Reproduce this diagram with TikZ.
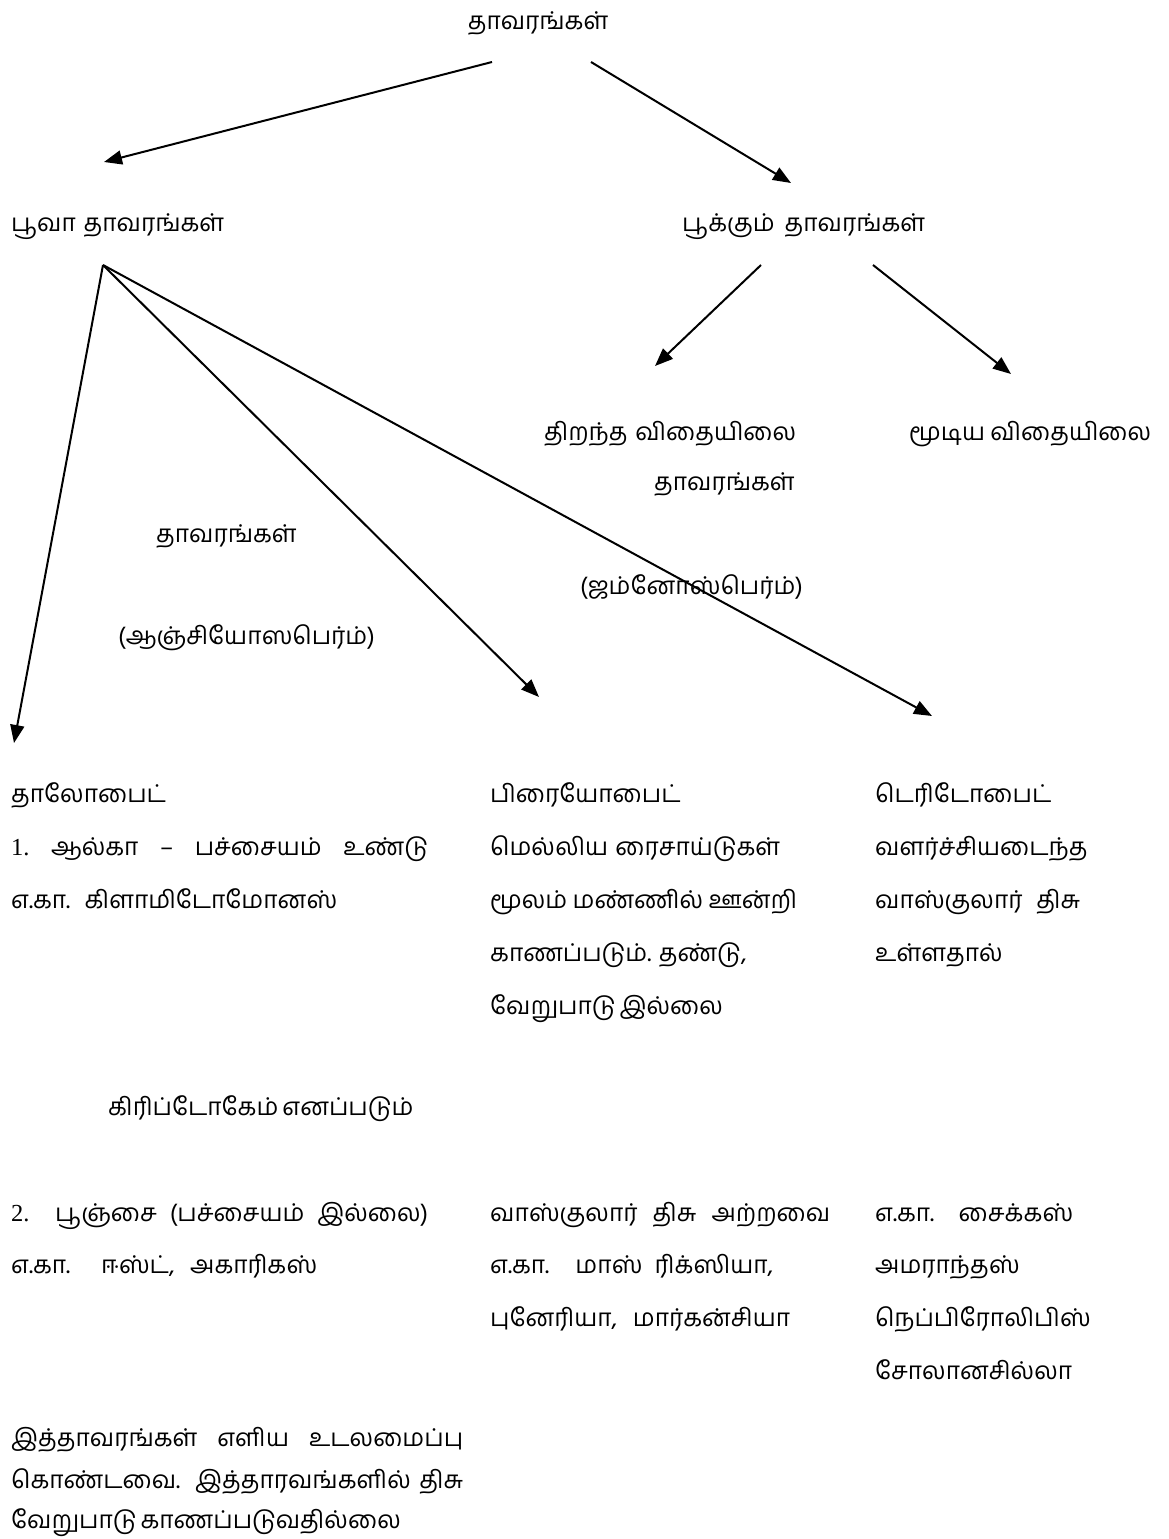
\documentclass[tikz,border=0pt]{standalone}
\usepackage{fontspec}
\setmainfont[Script=Tamil]{Hind Madurai}
\newfontfamily\latinfont{Liberation Serif}
\usetikzlibrary{arrows.meta}
\newcommand{\jline}[2]{\makebox[#1pt][s]{#2}}
\tikzset{
  txt/.style={anchor=base west, inner sep=0pt, font=\fontsize{24.5}{29}\selectfont},
  ctxt/.style={anchor=base, inner sep=0pt, font=\fontsize{24.5}{29}\selectfont},
  arr/.style={line width=2pt, -{Triangle[length=18pt,width=14pt]}}
}
\begin{document}
\begin{tikzpicture}[x=1pt,y=-1pt]
\useasboundingbox[fill=white] (0,0) rectangle (1168,1539);
% level 0
\node[ctxt] (root) at (538,29) {தாவரங்கள்};
% level 1
\node[txt] (poova) at (11,231) {\jline{213}{பூவா தாவரங்கள்}};
\node[txt] (pookkum) at (682,231) {\jline{243}{பூக்கும் தாவரங்கள்}};
% level 2
\node[txt] (thiran) at (544,440) {\jline{252}{திறந்த விதையிலை}};
\node[txt] (thiran2) at (654,490) {தாவரங்கள்};
\node[txt] (moodiya) at (909,440) {\jline{242}{மூடிய விதையிலை}};
\node[txt] (left2) at (156,542) {தாவரங்கள்};
\node[txt] (gymno) at (580,594) {(ஜம்னோஸ்பெர்ம்)};
\node[txt] (angio) at (118,644) {(ஆஞ்சியோஸபெர்ம்)};
% columns, first block
\node[txt] (thallo) at (11,802) {தாலோபைட்};
\node[txt] (thallo1) at (11,855) {\jline{417}{{\latinfont 1.}\ \ ஆல்கா \ – \ பச்சையம் \ உண்டு}};
\node[txt] (thallo2) at (11,908) {\jline{326}{எ.கா. கிளாமிடோமோனஸ்}};
\node[txt] (bryo) at (490,802) {பிரையோபைட்};
\node[txt] (bryo1) at (490,855) {\jline{290}{மெல்லிய ரைசாய்டுகள்}};
\node[txt] (bryo2) at (490,908) {\jline{307}{மூலம் மண்ணில் ஊன்றி}};
\node[txt] (bryo3) at (490,961) {\jline{250}{காணப்படும். தண்டு,}};
\node[txt] (bryo4) at (490,1014) {\jline{229}{வேறுபாடு இல்லை}};
\node[txt] (pteri) at (875,802) {டெரிடோபைட்};
\node[txt] (pteri1) at (875,855) {வளர்ச்சியடைந்த};
\node[txt] (pteri2) at (875,908) {\jline{205}{வாஸ்குலார் திசு}};
\node[txt] (pteri3) at (875,961) {உள்ளதால்};
\node[txt] (crypto) at (108,1115) {\jline{300}{கிரிப்டோகேம் எனப்படும்}};
% columns, second block
\node[txt] (fungi) at (11,1221) {\jline{417}{{\latinfont 2.}\ \ பூஞ்சை (பச்சையம் இல்லை)}};
\node[txt] (fungi1) at (11,1273) {\jline{306}{எ.கா. ஈஸ்ட், அகாரிகஸ்}};
\node[txt] (bryoB) at (490,1221) {\jline{340}{வாஸ்குலார் திசு அற்றவை}};
\node[txt] (bryoB1) at (490,1273) {\jline{283}{எ.கா. மாஸ் ரிக்ஸியா,}};
\node[txt] (bryoB2) at (490,1326) {\jline{300}{புனேரியா, மார்கன்சியா}};
\node[txt] (pteriB) at (875,1221) {\jline{198}{எ.கா. சைக்கஸ்}};
\node[txt] (pteriB1) at (875,1273) {அமராந்தஸ்};
\node[txt] (pteriB2) at (875,1326) {நெப்பிரோலிபிஸ்};
\node[txt] (pteriB3) at (875,1379) {சோலானசில்லா};
% bottom note
\node[txt] (note1) at (11,1446) {\jline{452}{இத்தாவரங்கள் எளிய உடலமைப்பு}};
\node[txt] (note2) at (11,1488) {\jline{452}{கொண்டவை. இத்தாரவங்களில் திசு}};
\node[txt] (note3) at (11,1528) {\jline{293}{வேறுபாடு காணப்படுவதில்லை}};
% connector end points
\coordinate (r1) at (492,62);
\coordinate (r2) at (591,62);
\coordinate (t1) at (104,162);
\coordinate (t2) at (791,183);
\coordinate (p0) at (103,265);
\coordinate (pa) at (14,743);
\coordinate (pb) at (539,697);
\coordinate (pc) at (932,716);
\coordinate (q1) at (761,265);
\coordinate (q2) at (873,265);
\coordinate (qa) at (655,366);
\coordinate (qb) at (1011,374);
\draw[arr] (r1) -- (t1);
\draw[arr] (r2) -- (t2);
\draw[arr] (p0) -- (pa);
\draw[arr] (p0) -- (pb);
\draw[arr] (p0) -- (pc);
\draw[arr] (q1) -- (qa);
\draw[arr] (q2) -- (qb);
\end{tikzpicture}
\end{document}
